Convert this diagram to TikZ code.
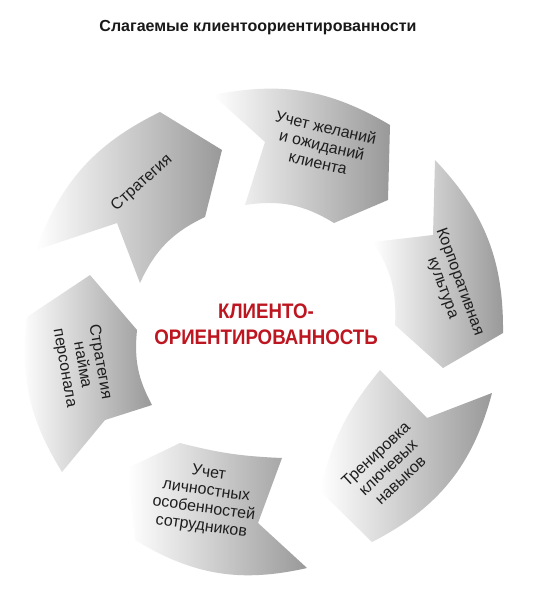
\documentclass[tikz,border=0pt]{standalone}
\usepackage{graphicx}
\usepackage{fontspec}
\setmainfont{Liberation Sans}
\definecolor{corered}{RGB}{190,22,32}
\definecolor{segtext}{RGB}{30,30,30}
\newcommand{\narrowtext}[1]{\scalebox{0.89}[1]{#1}}
\begin{document}
\begin{tikzpicture}[x=1pt,y=-1pt,
  seg/.style={left color=white, right color=gray!80, draw=none},
  lbl/.style={align=center, font=\fontsize{16}{18}\selectfont, text=segtext, inner sep=0pt}]
\useasboundingbox (0,0) rectangle (542,604);
\fill[white] (0,0) rectangle (542,604);
% Strategy
\path[seg] (36,250) to[bend left=22] (160,112) -- (222,150) -- (205,217) to[bend right=20] (140,283) -- (117,223) -- cycle;
% Client wishes
\path[seg] (213,95) to[bend left=21] (390,125) -- (388,200) -- (334,223) to[bend right=20] (245,205) -- (265,142) -- cycle;
% Corporate culture
\path[seg] (435,160) to[bend left=22] (503,333) -- (443,368) -- (395,325) to[bend right=18] (373,242) -- (433,235) -- cycle;
% Training
\path[seg] (492,393) to[bend left=24] (372,542) -- (320,491) to[bend left=13] (380,370) -- (427,418) -- cycle;
% Personal features
\path[seg] (307,568) to[bend left=22] (135,540) -- (128,468) -- (180,443) to[bend right=6] (282,458) -- (258,523) -- cycle;
% Hiring strategy
\path[seg] (62,472) to[bend left=19] (27,317) -- (90,275) -- (137,330) to[bend right=17] (152,405) -- (105,420) -- cycle;

\node[font=\bfseries\fontsize{16}{20}\selectfont, text=black!90] (title) at (258,28) {Слагаемые клиентоориентированности};
\node[align=center, text=corered, font=\bfseries\fontsize{21}{26}\selectfont] (core) at (266,324) {\narrowtext{КЛИЕНТО-}\\\narrowtext{ОРИЕНТИРОВАННОСТЬ}};

\node[lbl, rotate=42] (t1) at (142,183) {Стратегия};
\node[lbl, rotate=-13] (t2) at (322,145) {Учет желаний\\и ожиданий\\клиента};
\node[lbl, rotate=-70] (t3) at (451,285) {Корпоративная\\культура};
\node[lbl, rotate=43] (t4) at (388,467) {Тренировка\\ключевых\\навыков};
\node[lbl, rotate=-8] (t5) at (205,500) {Учет\\личностных\\особенностей\\сотрудников};
\node[lbl, rotate=-80] (t6) at (82,365) {Стратегия\\найма\\персонала};
\end{tikzpicture}
\end{document}
